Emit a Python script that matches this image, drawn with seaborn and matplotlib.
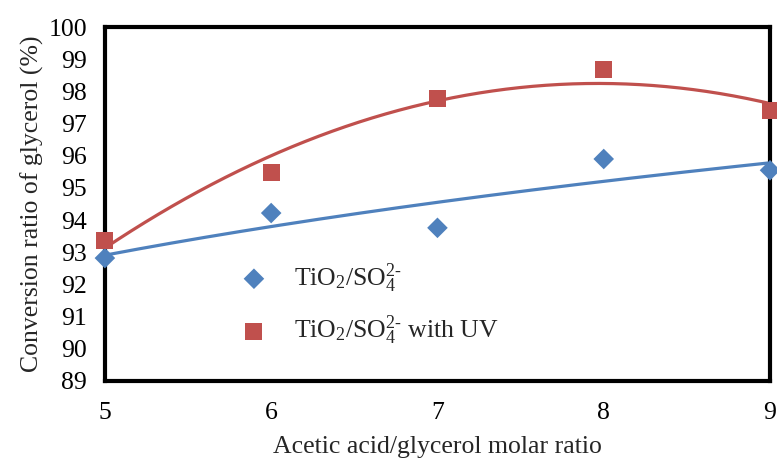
import numpy as np
import pandas as pd
import matplotlib
matplotlib.use('Agg')
import matplotlib.pyplot as plt
import seaborn as sns

# data
ratio = [5, 6, 7, 8, 9]
conv_plain = [92.82, 94.22, 93.76, 95.9, 95.55]
conv_uv = [93.38, 95.48, 97.78, 98.67, 97.4]

label_plain = r'TiO$_2$/SO$_4^{2\text{-}}$'
label_uv = r'TiO$_2$/SO$_4^{2\text{-}}$ with UV'

blue = '#4F81BD'
red = '#C0504D'

sns.set_style('white')
plt.rcParams['font.family'] = ['Liberation Serif', 'DejaVu Serif']
plt.rcParams['mathtext.fontset'] = 'custom'
plt.rcParams['mathtext.rm'] = 'Liberation Serif'
plt.rcParams['mathtext.it'] = 'Liberation Serif:italic'

df = pd.DataFrame({'ratio': ratio, 'plain': conv_plain, 'uv': conv_uv})

# trend lines: logarithmic for plain, 2nd order polynomial with UV
xs = np.linspace(min(ratio), max(ratio), 200)
b, a = np.polyfit(np.log(df['ratio']), df['plain'], 1)
fit_plain = a + b * np.log(xs)
fit_uv = np.polyval(np.polyfit(df['ratio'], df['uv'], 2), xs)

fig = plt.figure(figsize=(7.77, 4.59), dpi=100)
ax = fig.add_axes([0.135, 0.170, 0.856, 0.771])

sns.lineplot(x=xs, y=fit_plain, color=blue, lw=2.3, ax=ax)
sns.lineplot(x=xs, y=fit_uv, color=red, lw=2.3, ax=ax)
sns.scatterplot(x='ratio', y='plain', data=df, marker='D', s=110, color=blue,
                edgecolor='none', ax=ax, label=label_plain, clip_on=False, zorder=5)
sns.scatterplot(x='ratio', y='uv', data=df, marker='s', s=150, color=red,
                edgecolor='none', ax=ax, label=label_uv, clip_on=False, zorder=5)

ax.set_xlim(5, 9)
ax.set_ylim(89, 100)
ax.set_xticks(ratio)
ax.set_yticks(range(89, 101))
ax.tick_params(direction='in', length=7, width=2.5, labelsize=18.5, pad=13, colors='black')
ax.tick_params(axis='x', pad=15)
for sp in ax.spines.values():
    sp.set_linewidth(3)
    sp.set_color('black')

ax.set_xlabel('Acetic acid/glycerol molar ratio', fontsize=18.5, labelpad=9)
ax.set_ylabel('Conversion ratio of glycerol (%)', fontsize=18.5, labelpad=3)

ax.legend(loc='upper left', bbox_to_anchor=(0.17, 0.367), frameon=False,
          fontsize=18.5, labelspacing=0.75, handletextpad=0.55, borderaxespad=0)

fig.savefig('out.png', dpi=100)
